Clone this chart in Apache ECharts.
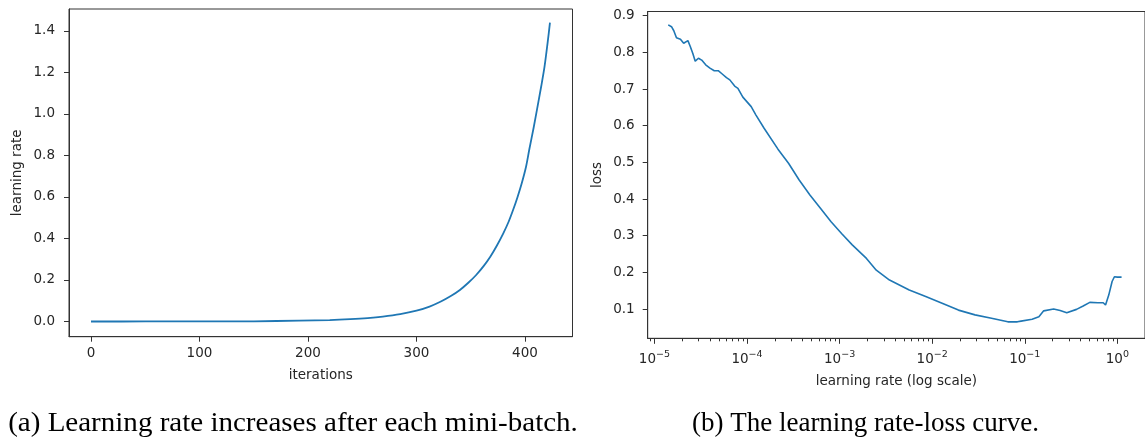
<!DOCTYPE html>
<html>
<head>
<meta charset="utf-8">
<script src="https://cdn.jsdelivr.net/npm/echarts@6/dist/echarts.min.js"></script>
<style>
html,body{margin:0;padding:0;background:#fff;}
#c{width:1145px;height:441px;}
</style>
</head>
<body>
<div id="c"></div>
<script>
// ---- Left panel: learning rate vs iterations ----
const iterations = [0, 50, 100, 150, 192, 220, 239, 255, 269, 285, 300, 312, 322, 332, 340, 348, 355, 362, 368, 374, 380, 385, 389, 393, 397, 401, 404, 408, 411, 415, 418, 421, 423];
const learningRate = [0, 0.0001, 0.0003, 0.001, 0.004, 0.007, 0.011, 0.016, 0.023, 0.035, 0.052, 0.072, 0.095, 0.124, 0.152, 0.188, 0.224, 0.268, 0.312, 0.365, 0.425, 0.482, 0.537, 0.598, 0.666, 0.747, 0.83, 0.935, 1.02, 1.135, 1.228, 1.35, 1.44];
const leftXTicks = [0, 100, 200, 300, 400];
const leftYTicks = [0, 0.2, 0.4, 0.6, 0.8, 1.0, 1.2, 1.4];

// ---- Right panel: loss vs learning rate (log) ----
const lrValues = [1.41e-5, 1.53e-5, 1.62e-5, 1.73e-5, 1.91e-5, 2.07e-5, 2.16e-5, 2.30e-5, 2.44e-5, 2.60e-5,
  2.76e-5, 2.99e-5, 3.24e-5, 3.58e-5, 3.98e-5, 4.43e-5, 4.89e-5, 5.40e-5, 6.00e-5, 6.52e-5,
  7.36e-5, 7.98e-5, 9.02e-5, 1.11e-4, 1.25e-4, 1.53e-4, 2.16e-4, 2.82e-4, 3.66e-4, 4.78e-4,
  6.21e-4, 8.09e-4, 1.05e-3, 1.37e-3, 1.95e-3, 2.49e-3, 3.46e-3, 5.65e-3, 8.51e-3, 1.28e-2,
  1.92e-2, 2.90e-2, 4.37e-2, 6.56e-2, 8.32e-2, 9.12e-2, 0.120, 0.142, 0.160, 0.205,
  0.241, 0.284, 0.362, 0.427, 0.504, 0.617, 0.703, 0.745, 0.807, 0.877,
  0.929, 1.0, 1.11];
const lossValues = [0.875, 0.870, 0.859, 0.840, 0.836, 0.825, 0.826, 0.832, 0.816, 0.797,
  0.776, 0.784, 0.779, 0.766, 0.757, 0.750, 0.750, 0.741, 0.731, 0.725,
  0.708, 0.702, 0.678, 0.652, 0.629, 0.593, 0.536, 0.497, 0.452, 0.411,
  0.375, 0.338, 0.306, 0.275, 0.238, 0.206, 0.179, 0.152, 0.134, 0.116,
  0.097, 0.084, 0.075, 0.065, 0.065, 0.067, 0.072, 0.079, 0.095, 0.100,
  0.096, 0.090, 0.099, 0.108, 0.118, 0.117, 0.117, 0.111, 0.138, 0.175,
  0.188, 0.187, 0.187];
const rightXTicks = [1e-5, 1e-4, 1e-3, 1e-2, 1e-1, 1];
const rightXMinorTicks = [9e-6,
  2e-5, 3e-5, 4e-5, 5e-5, 6e-5, 7e-5, 8e-5, 9e-5,
  2e-4, 3e-4, 4e-4, 5e-4, 6e-4, 7e-4, 8e-4, 9e-4,
  2e-3, 3e-3, 4e-3, 5e-3, 6e-3, 7e-3, 8e-3, 9e-3,
  2e-2, 3e-2, 4e-2, 5e-2, 6e-2, 7e-2, 8e-2, 9e-2,
  0.2, 0.3, 0.4, 0.5, 0.6, 0.7, 0.8, 0.9];
const rightYTicks = [0.1, 0.2, 0.3, 0.4, 0.5, 0.6, 0.7, 0.8, 0.9];

const captionA = '(a) Learning rate increases after each mini-batch.';
const captionB = '(b) The learning rate-loss curve.';

const FONT = 'DejaVu Sans';
const TXT = '#262626';
const AX = '#333333';
const FS = 13.5;

const LOG_MIN = Math.pow(10, -5.0724);
const LOG_MAX = Math.pow(10, 0.2983);

const chart = echarts.init(document.getElementById('c'), null, {renderer: 'canvas'});

function axisBase() {
  return {
    axisLine: {show: true, onZero: false, lineStyle: {color: AX, width: 1}},
    splitLine: {show: false},
    nameTextStyle: {color: TXT, fontFamily: FONT, fontSize: FS},
    nameLocation: 'middle'
  };
}

function supLabel(v) {
  const e = Math.round(Math.log10(v));
  const s = e < 0 ? '\u2212' + (-e) : String(e);
  return '{b|10}{s|' + s + '}';
}

const rightRect = {left: 647.7, top: 11.5, width: 504.3, height: 326.8};
const RIGHT_BOTTOM = 11.5 + 326.8;

const option = {
  animation: false,
  backgroundColor: '#ffffff',
  grid: [
    {left: 69, top: 9, width: 503.5, height: 327.7, show: true, borderColor: AX, borderWidth: 1, containLabel: false},
    Object.assign({show: true, borderColor: AX, borderWidth: 1, containLabel: false}, rightRect),
    {left: rightRect.left, width: rightRect.width, top: RIGHT_BOTTOM, height: 3, show: false, containLabel: false}
  ],
  xAxis: [
    Object.assign(axisBase(), {
      gridIndex: 0, type: 'value', min: -20.28, max: 443.78,
      name: 'iterations', nameGap: 32,
      axisLabel: {color: TXT, fontFamily: FONT, fontSize: FS, margin: 10, customValues: leftXTicks,
        formatter: v => String(Math.round(v))},
      axisTick: {show: true, length: 5, lineStyle: {color: AX}, customValues: leftXTicks}
    }),
    Object.assign(axisBase(), {
      gridIndex: 1, type: 'log', logBase: 10, min: LOG_MIN, max: LOG_MAX,
      name: 'learning rate (log scale)', nameGap: 36,
      axisLabel: {color: TXT, fontFamily: FONT, fontSize: FS, margin: 11, customValues: rightXTicks,
        formatter: supLabel,
        rich: {
          b: {fontFamily: FONT, fontSize: FS, color: TXT, lineHeight: 17, verticalAlign: 'bottom'},
          s: {fontFamily: FONT, fontSize: 9.5, color: TXT, lineHeight: 11, verticalAlign: 'top'}
        }},
      axisTick: {show: true, length: 5.5, lineStyle: {color: AX}, customValues: rightXTicks}
    }),
    {
      gridIndex: 2, type: 'log', logBase: 10, min: LOG_MIN, max: LOG_MAX, position: 'top',
      axisLine: {show: false},
      splitLine: {show: false},
      axisLabel: {show: false},
      axisTick: {show: true, inside: false, length: 3, lineStyle: {color: AX}, customValues: rightXMinorTicks}
    }
  ],
  yAxis: [
    Object.assign(axisBase(), {
      gridIndex: 0, type: 'value', min: -0.0733, max: 1.506,
      name: 'learning rate', nameGap: 45, nameRotate: 90,
      axisLabel: {color: TXT, fontFamily: FONT, fontSize: FS, margin: 14, customValues: leftYTicks,
        formatter: v => v.toFixed(1)},
      axisTick: {show: true, length: 5, lineStyle: {color: AX}, customValues: leftYTicks}
    }),
    Object.assign(axisBase(), {
      gridIndex: 1, type: 'value', min: 0.0201, max: 0.9115,
      name: 'loss', nameGap: 43, nameRotate: 90,
      axisLabel: {color: TXT, fontFamily: FONT, fontSize: FS, margin: 13, customValues: rightYTicks,
        formatter: v => v.toFixed(1)},
      axisTick: {show: true, length: 5, lineStyle: {color: AX}, customValues: rightYTicks}
    }),
    {gridIndex: 2, type: 'value', min: 0, max: 1, show: false}
  ],
  series: [
    {
      type: 'line', xAxisIndex: 0, yAxisIndex: 0,
      data: iterations.map((x, i) => [x, learningRate[i]]),
      showSymbol: false, smooth: 0.3,
      lineStyle: {color: '#1f77b4', width: 1.8},
      itemStyle: {color: '#1f77b4'}
    },
    {
      type: 'line', xAxisIndex: 1, yAxisIndex: 1,
      data: lrValues.map((x, i) => [x, lossValues[i]]),
      showSymbol: false,
      lineStyle: {color: '#1f77b4', width: 1.6},
      itemStyle: {color: '#1f77b4'}
    }
  ],
  graphic: [
    {type: 'text', x: 293, y: 424, scaleX: 1.075, style: {text: captionA, textAlign: 'center', textVerticalAlign: 'middle',
      font: '27px "Liberation Serif"', fill: '#000'}},
    {type: 'text', x: 865.5, y: 424, style: {text: captionB, textAlign: 'center', textVerticalAlign: 'middle',
      font: '27px "Liberation Serif"', fill: '#000'}}
  ]
};
chart.setOption(option);
</script>
</body>
</html>
